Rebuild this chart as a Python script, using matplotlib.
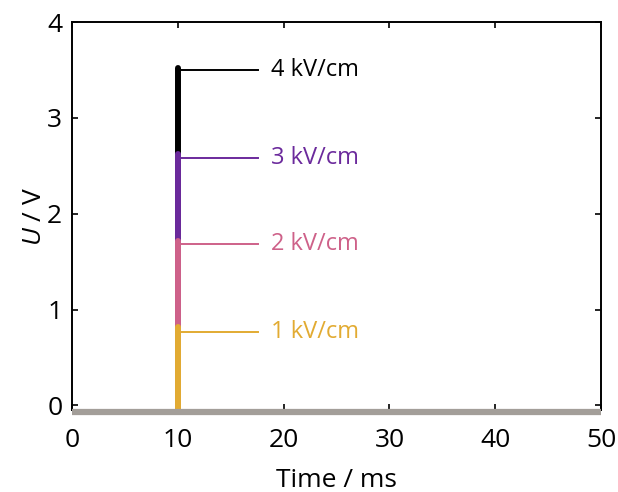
import numpy as np
import matplotlib
matplotlib.use("Agg")
import matplotlib.pyplot as plt

#%%
# data
fields = ["1 kV/cm", "2 kV/cm", "3 kV/cm", "4 kV/cm"]
peak_U = [0.82, 1.72, 2.62, 3.52]      # top of each pulse (V)
label_U = [0.77, 1.68, 2.58, 3.50]     # height of the label leader (V)
colors = ["#E2AB32", "#CE6189", "#6B2A9C", "#000000"]
pulse_t = 10        # ms
t_span = [0, 50]    # ms, baseline
baseline_U = -0.07

plt.rcParams["font.family"] = ["Open Sans", "DejaVu Sans"]
plt.rcParams["mathtext.fontset"] = "custom"
plt.rcParams["mathtext.it"] = "Open Sans:italic"
plt.rcParams["mathtext.rm"] = "Open Sans"

fig = plt.figure(figsize=(6.18, 4.92), dpi=100)
ax = fig.add_axes([0.1165, 0.1665, 0.856, 0.7885])

# baseline
ax.plot(t_span, [baseline_U, baseline_U], color="#A39E99", lw=4.5,
        solid_capstyle="butt", clip_on=False, zorder=5)

# pulses, biggest first so smaller ones sit on top
for i in range(len(fields) - 1, -1, -1):
    ax.plot([pulse_t, pulse_t], [baseline_U, peak_U[i]], color=colors[i], lw=4.3,
            solid_capstyle="round", zorder=3, clip_on=False)
    ax.plot([pulse_t + 0.2, pulse_t + 7.6], [label_U[i], label_U[i]],
            color=colors[i], lw=1.4, zorder=2)
    ax.text(pulse_t + 8.8, label_U[i], fields[i], color=colors[i],
            fontsize=17, va="center", ha="left")

ax.set_xlim(0, 50)
ax.set_ylim(-0.05, 4)
ax.set_xticks([0, 10, 20, 30, 40, 50])
ax.set_yticks([0, 1, 2, 3, 4])
ax.tick_params(direction="in", top=True, right=True, labelsize=19,
               length=4, width=1.2)
ax.tick_params(axis="x", pad=13)
ax.tick_params(axis="y", pad=7)
for s in ax.spines.values():
    s.set_linewidth(1.4)

ax.set_xlabel("Time / ms", fontsize=19, labelpad=11)
ax.set_ylabel("$U$ / V", fontsize=19, labelpad=0)

fig.savefig("out.png", dpi=100)
